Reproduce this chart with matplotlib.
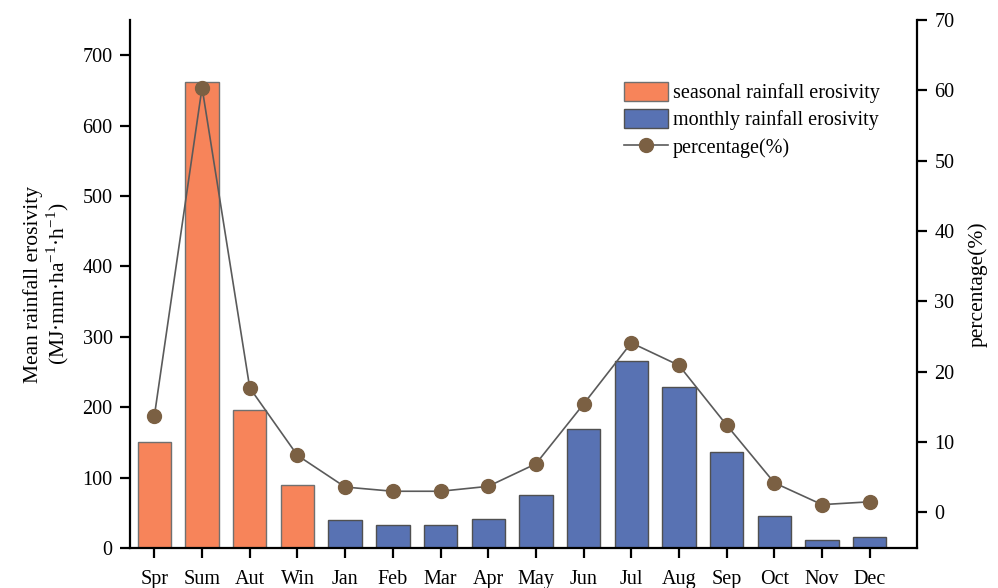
import numpy as np
import matplotlib
matplotlib.use('Agg')
import matplotlib.pyplot as plt

plt.rcParams['font.family'] = ['Liberation Serif', 'DejaVu Serif']
plt.rcParams['mathtext.fontset'] = 'custom'
plt.rcParams['mathtext.rm'] = 'Liberation Serif'

labels = ['Spr', 'Sum', 'Aut', 'Win', 'Jan', 'Feb', 'Mar', 'Apr',
          'May', 'Jun', 'Jul', 'Aug', 'Sep', 'Oct', 'Nov', 'Dec']
seasonal = [150, 662, 196, 89]
monthly = [40, 33, 33, 41, 75, 169, 265, 229, 137, 46, 12, 16]
percentage = [13.7, 60.4, 17.7, 8.1, 3.6, 3.0, 3.0, 3.7, 6.9,
              15.4, 24.1, 20.9, 12.4, 4.2, 1.1, 1.5]

orange = '#F7845A'
blue = '#5872B3'
brown = '#7B6043'

fig = plt.figure(figsize=(9.98, 5.88), dpi=100)
ax = fig.add_axes([0.1303, 0.068, 0.7885, 0.898])
ax2 = ax.twinx()

x = np.arange(len(labels))
b1 = ax.bar(x[:4], seasonal, width=0.7, color=orange, edgecolor='#707070',
            linewidth=1.0, label='seasonal rainfall erosivity')
b2 = ax.bar(x[4:], monthly, width=0.7, color=blue, edgecolor='#505050',
            linewidth=1.0, label='monthly rainfall erosivity')
ln, = ax2.plot(x, percentage, color='#5a5a5a', linewidth=1.2, marker='o',
               markersize=10, markerfacecolor=brown, markeredgecolor=brown,
               label='percentage(%)')

ax.set_xlim(-0.51, 15.99)
ax.set_ylim(0, 750)
ax2.set_ylim(-5.07, 70)
ax.set_yticks(np.arange(0, 701, 100))
ax2.set_yticks(np.arange(0, 71, 10))
ax.set_xticks(x)
ax.set_xticklabels(labels)

for a in (ax, ax2):
    a.spines['top'].set_visible(False)
    for s in a.spines.values():
        s.set_linewidth(1.6)
    a.tick_params(width=1.6, length=7.5, labelsize=14.5, direction='out',
                  pad=5)
ax.tick_params(axis='x', pad=8)
ax.spines['right'].set_visible(False)
ax2.spines['left'].set_visible(False)
ax2.spines['bottom'].set_visible(False)

ax.set_ylabel('Mean rainfall erosivity\n(MJ·mm·ha$^{-1}$·h$^{-1}$)',
              fontsize=15.5, linespacing=1.1, labelpad=8)
ax2.set_ylabel('percentage(%)', fontsize=15.5, labelpad=10)

ax2.legend([b1, b2, ln], [b1.get_label(), b2.get_label(), ln.get_label()],
           loc='upper left', bbox_to_anchor=(0.617, 0.898), frameon=False,
           fontsize=14.5, handlelength=2.2, handleheight=1.05,
           labelspacing=0.3, handletextpad=0.25, borderaxespad=0)

fig.savefig('out.png', dpi=100)
